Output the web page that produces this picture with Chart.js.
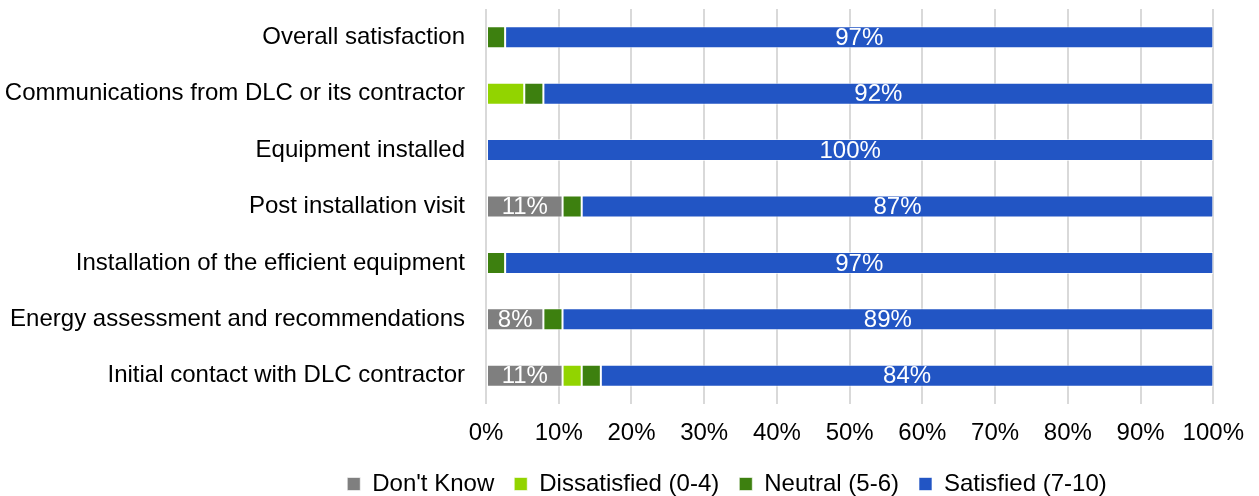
<!DOCTYPE html>
<html>
<head>
<meta charset="utf-8">
<script src="https://cdn.jsdelivr.net/npm/chart.js@4"></script>
<style>
    html, body { margin: 0; padding: 0; background: #fff; }
    #box { width: 1259px; height: 496px; }
</style>
</head>
<body>
<div id="box"><canvas id="satisfacao"></canvas></div>
<script>
// dados
const categorias = [
    'Overall satisfaction',
    'Communications from DLC or its contractor',
    'Equipment installed',
    'Post installation visit',
    'Installation of the efficient equipment',
    'Energy assessment and recommendations',
    'Initial contact with DLC contractor'
];
const naoSabe     = [0, 0, 0, 10.53, 0, 7.89, 10.53];
const insatisfeito = [0, 5.26, 0, 0, 0, 0, 2.63];
const neutro      = [2.63, 2.63, 0, 2.63, 2.63, 2.63, 2.63];
const satisfeito  = [97.37, 92.11, 100, 86.84, 97.37, 89.47, 84.21];
const ticks = [0, 10, 20, 30, 40, 50, 60, 70, 80, 90, 100];

const fonte = "'Liberation Sans', Arial, sans-serif";

// rotulos dentro das barras
const rotulos = {
    id: 'rotulos',
    afterDatasetsDraw(chart) {
        const ctx = chart.ctx;
        ctx.save();
        ctx.font = '24px ' + fonte;
        ctx.fillStyle = '#ffffff';
        ctx.textAlign = 'center';
        ctx.textBaseline = 'middle';
        chart.data.datasets.forEach((ds, i) => {
            if (ds.label !== "Don't Know" && ds.label !== 'Satisfied (7-10)') return;
            chart.getDatasetMeta(i).data.forEach((bar, j) => {
                const v = ds.data[j];
                if (v < 5) return;
                const x = (bar.x + bar.base) / 2;
                ctx.fillText(Math.round(v) + '%', x, bar.y + 1);
            });
        });
        ctx.restore();
    }
};

// legenda um pouco mais a direita, como no original
const moveLegenda = {
    id: 'moveLegenda',
    afterLayout(chart) {
        const lg = chart.legend;
        lg.left += 116;
        lg.right += 116;
        lg.top += 4;
        lg.bottom += 4;
    }
};

const grafico = document.getElementById('satisfacao');

new Chart(grafico, {
    type: 'bar',
    data: {
        labels: categorias,
        datasets: [
            { label: "Don't Know", data: naoSabe, backgroundColor: '#7f7f7f' },
            { label: 'Dissatisfied (0-4)', data: insatisfeito, backgroundColor: '#92d400' },
            { label: 'Neutral (5-6)', data: neutro, backgroundColor: '#3d800f' },
            { label: 'Satisfied (7-10)', data: satisfeito, backgroundColor: '#2255c4' }
        ].map(d => Object.assign(d, {
            borderColor: 'rgba(255,255,255,0.6)',
            borderWidth: 1,
            borderSkipped: false,
            barPercentage: 0.39,
            categoryPercentage: 1
        }))
    },
    options: {
        indexAxis: 'y',
        responsive: true,
        maintainAspectRatio: false,
        animation: false,
        layout: { padding: { left: 5, right: 42, top: 9, bottom: 0 } },
        scales: {
            x: {
                stacked: true,
                min: 0,
                max: 100,
                afterBuildTicks: axis => { axis.ticks = ticks.map(v => ({ value: v })); },
                afterFit: axis => { axis.height = 44; },
                ticks: {
                    callback: v => v + '%',
                    color: '#000',
                    font: { family: fonte, size: 24 },
                    padding: 15
                },
                grid: { color: '#d9d9d9', lineWidth: 2, tickLength: 0 },
                border: { display: false }
            },
            y: {
                stacked: true,
                afterFit: axis => {
                    axis.width = 481;
                    axis.paddingTop = 0;
                    axis.paddingBottom = 0;
                },
                ticks: {
                    color: '#000',
                    font: { family: fonte, size: 24 },
                    padding: 21
                },
                grid: { display: false, drawTicks: false, tickLength: 0 },
                border: { display: false }
            }
        },
        plugins: {
            legend: {
                position: 'bottom',
                maxHeight: 48,
                labels: {
                    color: '#000',
                    font: { family: fonte, size: 24 },
                    boxWidth: 13,
                    boxHeight: 13,
                    padding: 20
                }
            },
            tooltip: { enabled: false }
        }
    },
    plugins: [rotulos, moveLegenda]
});
</script>
</body>
</html>
